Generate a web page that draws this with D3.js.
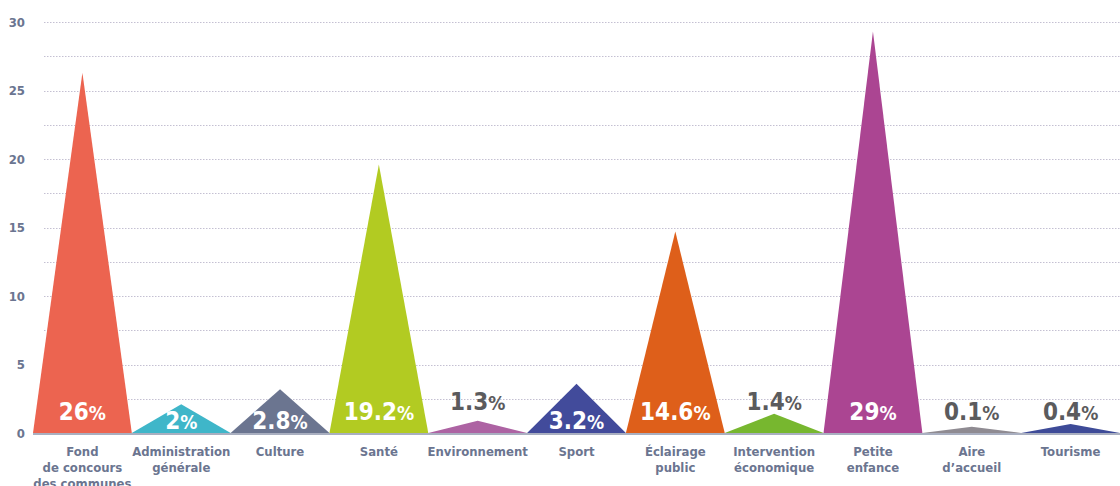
<!DOCTYPE html>
<html>
<head>
<meta charset="utf-8">
<script src="https://cdn.jsdelivr.net/npm/d3@7"></script>
<style>
  body { margin: 0; background: #fff; }
  svg { display: block; font-family: "DejaVu Sans Condensed", "DejaVu Sans", sans-serif; }
  .grid line { stroke: #c4c0d2; stroke-width: 1; stroke-dasharray: 1.5,1.5; }
  .ytick { fill: #6b7590; font-size: 13px; font-weight: bold; }
  .cat { fill: #6b7590; font-size: 13px; font-weight: bold; }
</style>
</head>
<body>
<svg id="svgId" width="1120" height="486"></svg>
<script>
const svg = d3.select("svg");

const width = parseInt(svg.attr("width"));
const height = parseInt(svg.attr("height"));

// categories (label lines), drawn heights, printed labels, colours
const categories = [
    ["Fond", "de concours", "des communes"],
    ["Administration", "générale"],
    ["Culture"],
    ["Santé"],
    ["Environnement"],
    ["Sport"],
    ["Éclairage", "public"],
    ["Intervention", "économique"],
    ["Petite", "enfance"],
    ["Aire", "d’accueil"],
    ["Tourisme"]
];
const values = [26.3, 2.1, 3.2, 19.6, 0.9, 3.6, 14.7, 1.4, 29.3, 0.45, 0.65];
const labels = ["26", "2", "2.8", "19.2", "1.3", "3.2", "14.6", "1.4", "29", "0.1", "0.4"];
const colors = ["#ec6450", "#3fb6c9", "#6b7590", "#b2cb22", "#ad63a3", "#424b9b",
    "#de5f1a", "#77b72f", "#ab4592", "#8f8b92", "#3e4b98"];
const yTicks = [0, 5, 10, 15, 20, 25, 30];
const gridTicks = [2.5, 5, 7.5, 10, 12.5, 15, 17.5, 20, 22.5, 25, 27.5, 30];

const x = d3.scaleBand()
    .domain(d3.range(values.length))
    .range([33, 1120])
    .padding(0);

const y = d3.scaleLinear()
    .domain([0, 30])
    .range([433, 22]);

// grid
svg.append("g").attr("class", "grid")
    .selectAll("line")
    .data(gridTicks)
    .enter()
    .append("line")
    .attr("x1", 44)
    .attr("x2", width)
    .attr("y1", d => Math.round(y(d)) + 0.5)
    .attr("y2", d => Math.round(y(d)) + 0.5);

// y tick labels
svg.append("g")
    .selectAll("text")
    .data(yTicks)
    .enter()
    .append("text")
    .attr("class", "ytick")
    .attr("x", 25)
    .attr("y", d => y(d))
    .attr("dy", "0.35em")
    .attr("text-anchor", "end")
    .text(d => d);

// triangles
const data = values.map((v, i) => ({v: v, i: i, label: labels[i]}));
svg.append("g")
    .selectAll("path")
    .data(data)
    .enter()
    .append("path")
    .attr("fill", d => colors[d.i])
    .attr("d", d => {
        const x0 = x(d.i), x1 = x(d.i) + x.bandwidth();
        const xm = x0 + x.bandwidth() / 2;
        return `M${x0},${y(0)}L${xm},${y(d.v)}L${x1},${y(0)}Z`;
    });

// baseline
svg.append("line")
    .attr("x1", 33).attr("x2", width)
    .attr("y1", y(0) + 1).attr("y2", y(0) + 1)
    .attr("stroke", "#a9afc0")
    .attr("stroke-width", 2);

// value labels
function labelY(p) {
    if (p >= 10) return 420;
    if (p >= 2) return 429;
    if (p >= 1) return 410;
    return 420;
}
const vl = svg.append("g")
    .selectAll("text")
    .data(data)
    .enter()
    .append("text")
    .attr("x", d => x(d.i) + x.bandwidth() / 2)
    .attr("y", d => labelY(+d.label))
    .attr("text-anchor", "middle")
    .attr("font-weight", "bold")
    .attr("fill", d => +d.label >= 2 ? "#ffffff" : "#5b5b5d");
vl.append("tspan").attr("font-size", "24px").text(d => d.label);
vl.append("tspan").attr("font-size", "19px").text("%");

// category labels
const cl = svg.append("g")
    .selectAll("text")
    .data(categories)
    .enter()
    .append("text")
    .attr("class", "cat")
    .attr("text-anchor", "middle")
    .attr("x", (d, i) => x(i) + x.bandwidth() / 2)
    .attr("y", 456);
cl.selectAll("tspan")
    .data(d => d)
    .enter()
    .append("tspan")
    .attr("x", function () { return d3.select(this.parentNode).attr("x"); })
    .attr("dy", (d, j) => j === 0 ? 0 : 16)
    .text(d => d);
</script>
</body>
</html>
